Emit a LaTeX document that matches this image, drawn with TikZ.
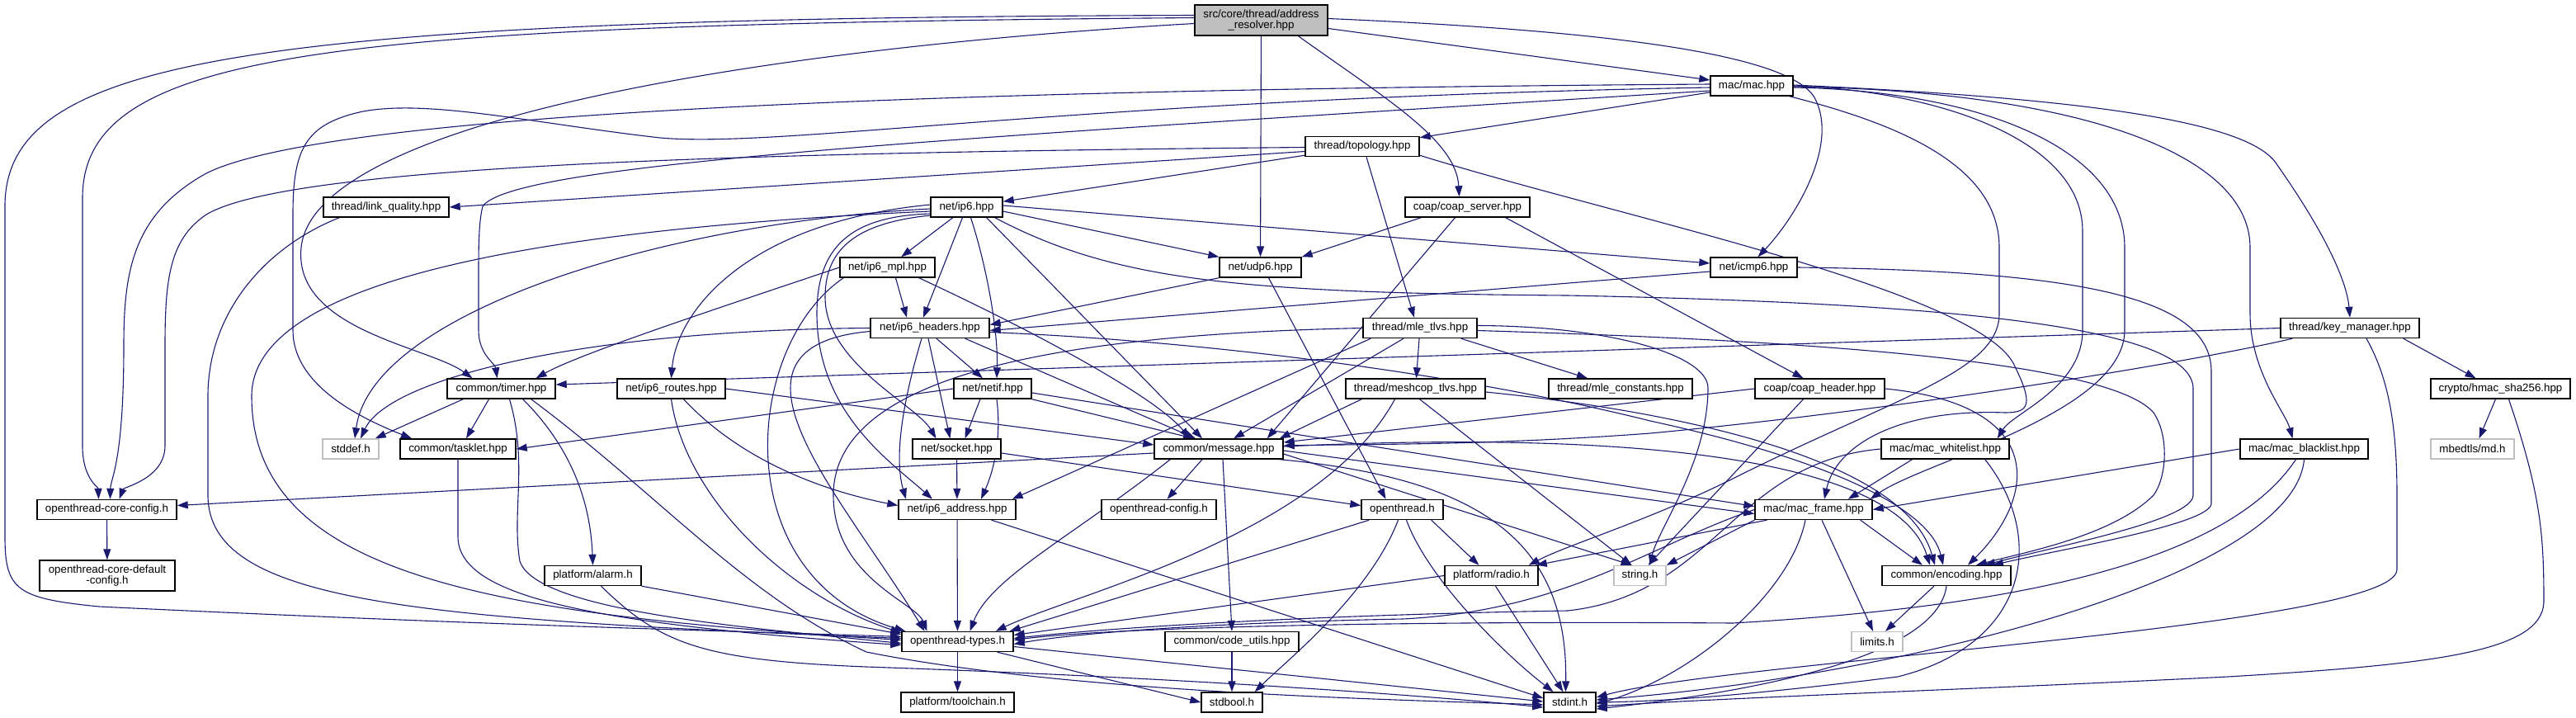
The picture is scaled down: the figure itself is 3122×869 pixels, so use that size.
\documentclass[tikz,border=0pt]{standalone}
\usepackage{fontspec}
\setmainfont{Liberation Sans}
\usetikzlibrary{arrows.meta,calc}
\definecolor{edgec}{HTML}{191970}
\definecolor{rootgray}{HTML}{BFBFBF}
\definecolor{lightb}{HTML}{BFBFBF}
\pgfdeclarelayer{edgelayer}
\pgfsetlayers{edgelayer,main}
\begin{document}
\begin{tikzpicture}[x=0.5pt,y=-0.5pt,
 box/.style={draw=black,line width=0.7pt,fill=white,inner sep=0pt,minimum height=12pt,font=\fontsize{6.67pt}{6.9pt}\selectfont,align=center},
 gbox/.style={box,draw=lightb},
 e/.style={draw=edgec,line width=0.55pt,-{Triangle[length=6.5pt,width=4.5pt]}}]
\useasboundingbox (0,0) rectangle (3122,869);
% nodes
\node[box,fill=rootgray,minimum width=80.5pt,minimum height=18.5pt] (root) at (1528.5,24.5) {src/core/thread/address\\\_resolver.hpp};
\node[box,minimum width=50pt] (mac) at (2123,104) {mac/mac.hpp};
\node[box,minimum width=69pt] (topology) at (1651,177.5) {thread/topology.hpp};
\node[box,minimum width=76pt] (linkq) at (468,251) {thread/link\_quality.hpp};
\node[box,minimum width=43.5pt] (ip6) at (1171.5,251) {net/ip6.hpp};
\node[box,minimum width=75.5pt] (coapserver) at (1778.5,251) {coap/coap\_server.hpp};
\node[box,minimum width=57.5pt] (ip6mpl) at (1075.5,324) {net/ip6\_mpl.hpp};
\node[box,minimum width=49.5pt] (udp6) at (1527.5,324) {net/udp6.hpp};
\node[box,minimum width=52.5pt] (icmp6) at (2125.5,324) {net/icmp6.hpp};
\node[box,minimum width=72pt] (ip6headers) at (1127,397.5) {net/ip6\_headers.hpp};
\node[box,minimum width=69pt] (mletlvs) at (1721,397.5) {thread/mle\_tlvs.hpp};
\node[box,minimum width=84pt] (keymgr) at (2848,397.5) {thread/key\_manager.hpp};
\node[box,minimum width=65.5pt] (timer) at (607.5,471) {common/timer.hpp};
\node[box,minimum width=65.5pt] (ip6routes) at (813.5,471) {net/ip6\_routes.hpp};
\node[box,minimum width=47pt] (netif) at (1203,471) {net/netif.hpp};
\node[box,minimum width=84.5pt] (meshcop) at (1715.5,471) {thread/meshcop\_tlvs.hpp};
\node[box,minimum width=87pt] (mleconst) at (1964,471) {thread/mle\_constants.hpp};
\node[box,minimum width=78.5pt] (coapheader) at (2205.5,471) {coap/coap\_header.hpp};
\node[box,minimum width=84.5pt] (hmac) at (3030.5,471) {crypto/hmac\_sha256.hpp};
\node[gbox,minimum width=34pt] (stddef) at (425,544) {stddef.h};
\node[box,minimum width=70pt] (tasklet) at (555,544) {common/tasklet.hpp};
\node[box,minimum width=53.5pt] (socket) at (1159.5,544) {net/socket.hpp};
\node[box,minimum width=78pt] (message) at (1477,544) {common/message.hpp};
\node[box,minimum width=77.5pt] (whitelist) at (2357.5,544) {mac/mac\_whitelist.hpp};
\node[box,minimum width=77.5pt] (blacklist) at (2792.5,544) {mac/mac\_blacklist.hpp};
\node[gbox,minimum width=50.5pt] (md) at (2996.5,544) {mbedtls/md.h};
\node[box,minimum width=84.5pt] (coreconfig) at (129.5,617.5) {openthread-core-config.h};
\node[box,minimum width=71pt] (ip6addr) at (1160,617.5) {net/ip6\_address.hpp};
\node[box,minimum width=69.5pt] (otconfig) at (1404.5,617.5) {openthread-config.h};
\node[box,minimum width=49.5pt] (openthread) at (1699.5,617.5) {openthread.h};
\node[box,minimum width=71pt] (macframe) at (2198,617.5) {mac/mac\_frame.hpp};
\node[box,minimum width=82pt,minimum height=18.5pt] (defconfig) at (130,697.5) {openthread-core-default\\-config.h};
\node[box,minimum width=58.5pt] (alarm) at (718.5,697.5) {platform/alarm.h};
\node[box,minimum width=56.5pt] (radio) at (1807.5,697.5) {platform/radio.h};
\node[gbox,minimum width=31.5pt] (string) at (1987.5,697.5) {string.h};
\node[box,minimum width=78pt] (encoding) at (2359,697.5) {common/encoding.hpp};
\node[box,minimum width=67.5pt] (types) at (1160.5,777.5) {openthread-types.h};
\node[box,minimum width=81pt] (codeutils) at (1493,777.5) {common/code\_utils.hpp};
\node[gbox,minimum width=31pt] (limits) at (2275,777.5) {limits.h};
\node[box,minimum width=68.5pt] (toolchain) at (1160.5,851) {platform/toolchain.h};
\node[box,minimum width=37pt] (stdbool) at (1493,851) {stdbool.h};
\node[box,minimum width=31.5pt] (stdint) at (1902.5,851) {stdint.h};
\begin{pgfonlayer}{edgelayer}
% ---- root
\draw[e] ($(root.west)+(0,-6)$) .. controls (300,22) and (6,70) .. (6,250) -- (6,650) .. controls (6,715) and (20,725) .. (120,735) .. controls (600,758) and (900,765) .. ($(types.west)+(0,-6)$);
\draw[e] ($(root.west)+(0,-3)$) .. controls (400,30) and (100,60) .. (100,240) -- (100,540) .. controls (100,580) and (119,590) .. ($(coreconfig.north)+(-10,0)$);
\draw[e] ($(root.west)+(0,4)$) .. controls (900,60) and (380,150) .. (365,300) .. controls (355,400) and (520,420) .. ($(timer.north)+(-35,0)$);
\draw[e] (root) -- (udp6);
\draw[e] ($(root.south)+(45,0)$) .. controls (1680,120) and (1765,170) .. ($(coapserver.north)+(-10,0)$);
\draw[e] ($(root.east)+(0,10)$) -- ($(mac.west)+(0,-7)$);
\draw[e] ($(root.east)+(0,-2)$) .. controls (1900,35) and (2170,60) .. (2200,120) .. controls (2230,180) and (2170,270) .. ($(icmp6.north)+(5,0)$);
% ---- mac
\draw[e] (mac) -- (topology);
\draw[e] ($(mac.west)+(0,-2)$) .. controls (900,110) and (370,150) .. (250,210) .. controls (160,260) and (150,330) .. (150,420) .. controls (150,560) and (134,580) .. ($(coreconfig.north)+(4,0)$);
\draw[e] ($(mac.west)+(0,2)$) .. controls (1300,120) and (950,180) .. (800,167) .. controls (650,150) and (520,120) .. (440,135) .. controls (370,150) and (355,180) .. (355,260) -- (355,400) .. controls (355,460) and (420,500) .. ($(tasklet.north)+(-56,0)$);
\draw[e] ($(mac.west)+(0,6)$) .. controls (1100,170) and (620,200) .. (585,250) .. controls (580,270) and (580,300) .. (580,340) -- (580,400) .. controls (580,430) and (600,440) .. ($(timer.north)+(-5,0)$);
\draw[e] ($(mac.east)+(0,2)$) .. controls (2400,110) and (2575,180) .. (2575,300) -- (2575,400) .. controls (2575,500) and (2330,560) .. ($(macframe.north east)+(-3,0)$);
\draw[e] ($(mac.east)+(0,0)$) .. controls (2350,110) and (2524,170) .. (2524,280) -- (2524,400) .. controls (2524,470) and (2440,500) .. ($(whitelist.north east)+(-15,0)$);
\draw[e] ($(mac.east)+(0,1)$) .. controls (2500,110) and (2727,180) .. (2727,300) -- (2727,380) .. controls (2727,450) and (2770,500) .. ($(blacklist.north)+(-14,0)$);
\draw[e] ($(mac.east)+(0,-1)$) .. controls (2550,120) and (2730,150) .. (2760,200) .. controls (2830,300) and (2845,350) .. (keymgr.north);
\draw[e] ($(mac.south east)+(-5,0)$) .. controls (2300,150) and (2423,200) .. (2423,300) -- (2423,380) .. controls (2423,450) and (2300,480) .. (2100,580) .. controls (2000,630) and (1900,660) .. ($(radio.north east)+(-12,0)$);
% ---- topology
\draw[e] ($(topology.west)+(0,1)$) .. controls (900,185) and (350,200) .. (250,260) .. controls (205,290) and (200,340) .. (200,420) -- (200,540) .. controls (200,580) and (150,590) .. ($(coreconfig.north)+(15,0)$);
\draw[e] ($(topology.west)+(0,6)$) -- (linkq.east);
\draw[e] (topology) -- (ip6);
\draw[e] ($(topology.south)+(5,0)$) -- ($(mletlvs.north)+(-7,0)$);
\draw[e] ($(topology.south east)+(0,-2)$) .. controls (1950,260) and (2390,350) .. (2440,440) .. controls (2465,490) and (2460,500) .. (2430,500) .. controls (2300,495) and (2225,540) .. ($(macframe.north)+(13,0)$);
% ---- link quality
\draw[e] ($(linkq.south west)+(20,0)$) .. controls (320,300) and (252,380) .. (252,480) -- (252,600) .. controls (252,730) and (500,750) .. ($(types.west)+(0,-4)$);
% ---- ip6
\draw[e] (ip6) -- (ip6mpl);
\draw[e] ($(ip6.south)+(-5,0)$) -- ($(ip6headers.north)+(-8,0)$);
\draw[e] ($(ip6.south)+(5,0)$) .. controls (1195,320) and (1210,400) .. ($(netif.north)+(5,0)$);
\draw[e] ($(ip6.south east)+(-20,0)$) -- ($(message.north)+(-20,0)$);
\draw[e] ($(ip6.east)+(0,5)$) -- (udp6.north west);
\draw[e] ($(ip6.east)+(0,-2)$) -- ($(icmp6.west)+(0,-5)$);
\draw[e] ($(ip6.south east)+(-10,0)$) .. controls (1350,340) and (1500,355) .. (1900,358) .. controls (2400,368) and (2655,400) .. (2658,470) -- (2658,600) .. controls (2658,630) and (2500,660) .. ($(encoding.north)+(46,0)$);
\draw[e] ($(ip6.west)+(0,2)$) .. controls (800,270) and (450,380) .. ($(stddef.north)+(5,0)$);
\draw[e] ($(ip6.west)+(0,5)$) .. controls (600,280) and (305,350) .. (305,480) .. controls (305,700) and (600,745) .. ($(types.west)+(0,-2)$);
\draw[e] ($(ip6.west)+(0,8)$) .. controls (1030,262) and (990,300) .. (990,380) .. controls (990,500) and (1080,560) .. ($(ip6addr.north)+(-30,0)$);
\draw[e] ($(ip6.west)+(0,10)$) .. controls (1040,270) and (1000,300) .. (1000,360) .. controls (1000,440) and (1110,490) .. ($(socket.north)+(-25,0)$);
\draw[e] ($(ip6.west)+(0,-3)$) .. controls (900,270) and (820,380) .. (ip6routes.north);
% ---- ip6 mpl
\draw[e] ($(ip6mpl.south)+(10,0)$) -- ($(ip6headers.north)+(-28,0)$);
\draw[e] ($(ip6mpl.south east)+(-20,0)$) .. controls (1250,400) and (1400,480) .. ($(message.north)+(-35,0)$);
\draw[e] (ip6mpl.west) .. controls (850,380) and (700,430) .. ($(timer.north)+(42,0)$);
\draw[e] ($(ip6mpl.south west)+(5,0)$) .. controls (900,420) and (880,700) .. ($(types.north west)+(5,0)$);
% ---- udp6, icmp6
\draw[e] (udp6.south west) -- ($(ip6headers.east)+(0,-4)$);
\draw[e] ($(udp6.south)+(10,0)$) -- ($(openthread.north)+(-20,0)$);
\draw[e] ($(icmp6.west)+(0,5)$) -- ($(ip6headers.east)+(0,3)$);
\draw[e] (icmp6.east) .. controls (2520,328) and (2680,360) .. (2680,450) -- (2680,610) .. controls (2680,635) and (2500,665) .. ($(encoding.north)+(56,0)$);
% ---- ip6 headers
\draw[e] (ip6headers.west) .. controls (700,400) and (470,460) .. ($(stddef.north)+(12,0)$);
\draw[e] ($(ip6headers.west)+(0,4)$) .. controls (850,420) and (1020,600) .. ($(types.north)+(-40,0)$);
\draw[e] ($(ip6headers.south)+(-10,0)$) .. controls (1090,500) and (1085,560) .. ($(ip6addr.north)+(-62,0)$);
\draw[e] ($(ip6headers.south)+(8,0)$) -- ($(netif.north)+(-12,0)$);
\draw[e] ($(ip6headers.south)+(-2,0)$) -- ($(socket.north)+(-8,0)$);
\draw[e] ($(ip6headers.south east)+(-30,0)$) -- ($(message.north)+(-28,0)$);
\draw[e] ($(ip6headers.east)+(0,5)$) .. controls (1500,415) and (1800,460) .. (2000,510) .. controls (2230,560) and (2340,620) .. ($(encoding.north)+(-4,0)$);
% ---- mle tlvs
\draw[e] (mletlvs.west) .. controls (1300,405) and (1010,450) .. (1010,600) .. controls (1010,700) and (1110,730) .. ($(types.north)+(-37,0)$);
\draw[e] ($(mletlvs.south west)+(10,0)$) -- ($(ip6addr.north east)+(-5,0)$);
\draw[e] ($(mletlvs.south)+(-20,0)$) -- ($(message.north)+(18,0)$);
\draw[e] (mletlvs) -- (meshcop);
\draw[e] ($(mletlvs.south east)+(-20,0)$) -- ($(mleconst.north)+(-40,0)$);
\draw[e] ($(mletlvs.east)+(0,-3)$) .. controls (1950,395) and (2070,430) .. (2070,470) .. controls (2070,560) and (2010,640) .. ($(string.north)+(12,0)$);
\draw[e] ($(mletlvs.east)+(0,3)$) .. controls (2100,410) and (2550,430) .. (2610,500) .. controls (2630,530) and (2625,580) .. (2610,600) .. controls (2560,650) and (2450,670) .. ($(encoding.north)+(36,0)$);
% ---- meshcop
\draw[e] ($(meshcop.south west)+(20,0)$) -- ($(message.north east)+(-5,0)$);
\draw[e] ($(meshcop.south)+(-25,0)$) .. controls (1600,650) and (1300,720) .. ($(types.north east)+(-22,0)$);
\draw[e] ($(meshcop.south)+(5,0)$) -- ($(string.north)+(-10,0)$);
\draw[e] ($(meshcop.east)+(0,4)$) .. controls (2050,500) and (2310,560) .. ($(encoding.north)+(-14,0)$);
% ---- key manager
\draw[e] (keymgr.west) -- ($(timer.east)+(0,-5)$);
\draw[e] ($(keymgr.south west)+(15,0)$) .. controls (2650,440) and (2300,497) .. (2000,525) .. controls (1800,540) and (1650,538) .. ($(message.east)+(0,-4)$);
\draw[e] ($(keymgr.south)+(20,0)$) .. controls (2890,450) and (2905,500) .. (2905,600) -- (2905,690) .. controls (2905,760) and (2100,800) .. ($(stdint.east)+(0,-6)$);
\draw[e] ($(keymgr.south east)+(-20,0)$) -- ($(hmac.north)+(-30,0)$);
% ---- hmac
\draw[e] ($(hmac.south)+(-6,0)$) -- ($(md.north)+(8,0)$);
\draw[e] ($(hmac.south)+(10,0)$) .. controls (3080,600) and (3083,650) .. (3083,730) .. controls (3080,790) and (2950,805) .. (2700,820) .. controls (2400,835) and (2100,845) .. ($(stdint.east)+(0,5)$);
% ---- timer
\draw[e] ($(timer.south west)+(20,0)$) -- ($(stddef.north east)+(-5,0)$);
\draw[e] ($(timer.south)+(-15,0)$) -- ($(tasklet.north)+(10,0)$);
\draw[e] ($(timer.south east)+(-40,0)$) .. controls (700,550) and (716,620) .. (alarm.north);
\draw[e] ($(timer.south)+(10,0)$) .. controls (640,560) and (620,620) .. (630,680) .. controls (650,740) and (900,760) .. ($(types.west)+(0,2)$);
\draw[e] ($(timer.south east)+(-30,0)$) .. controls (800,600) and (900,720) .. (1050,790) .. controls (1300,840) and (1700,848) .. ($(stdint.west)+(0,3)$);
% ---- tasklet
\draw[e] (tasklet.south) -- (555,650) .. controls (555,720) and (700,755) .. ($(types.west)+(0,4)$);
% ---- ip6 routes
\draw[e] ($(ip6routes.south)+(15,0)$) .. controls (900,560) and (1000,595) .. ($(ip6addr.west)+(0,-5)$);
\draw[e] (ip6routes.east) -- ($(message.west)+(0,-5)$);
\draw[e] ($(ip6routes.south)+(0,0)$) .. controls (830,600) and (950,720) .. ($(types.north west)+(0,2)$);
% ---- netif
\draw[e] (netif.west) -- (tasklet.east);
\draw[e] ($(netif.south)+(-15,0)$) -- ($(socket.north)+(10,0)$);
\draw[e] ($(netif.south)+(5,0)$) .. controls (1215,540) and (1200,580) .. ($(ip6addr.north)+(29,0)$);
\draw[e] (netif.south east) -- ($(message.north)+(-30,0)$);
\draw[e] ($(netif.east)+(0,5)$) -- ($(macframe.west)+(0,-4)$);
% ---- socket
\draw[e] (socket) -- (ip6addr);
\draw[e] ($(socket.east)+(0,5)$) -- ($(openthread.west)+(0,-5)$);
% ---- message
\draw[e] ($(message.west)+(0,5)$) -- ($(coreconfig.east)+(0,-5)$);
\draw[e] ($(message.south west)+(20,0)$) .. controls (1300,650) and (1200,700) .. ($(types.north)+(15,0)$);
\draw[e] ($(message.south)+(-20,0)$) -- ($(otconfig.north)+(10,0)$);
\draw[e] ($(message.south)+(5,0)$) -- (codeutils.north);
\draw[e] ($(message.east)+(0,2)$) -- ($(macframe.west)+(0,5)$);
\draw[e] ($(message.east)+(0,6)$) -- ($(string.north)+(-10,0)$);
\draw[e] ($(message.south east)+(-5,0)$) .. controls (1800,580) and (1900,660) .. ($(stdint.north)+(-5,0)$);
\draw[e] ($(message.east)+(0,-3)$) .. controls (2000,520) and (2300,560) .. ($(encoding.north)+(-20,0)$);
% ---- coap server
\draw[e] ($(coapserver.south west)+(20,0)$) -- (udp6.north east);
\draw[e] ($(coapserver.south)+(-15,0)$) -- ($(message.north east)+(-20,0)$);
\draw[e] ($(coapserver.south east)+(-30,0)$) -- ($(coapheader.north)+(-20,0)$);
% ---- coap header
\draw[e] (coapheader.west) -- ($(message.east)+(0,-8)$);
\draw[e] ($(coapheader.south)+(-20,0)$) -- ($(string.north)+(10,0)$);
\draw[e] (coapheader.east) .. controls (2480,490) and (2470,600) .. ($(encoding.north)+(26,0)$);
% ---- whitelist
\draw[e] ($(whitelist.south)+(-40,0)$) -- ($(macframe.north east)+(-30,0)$);
\draw[e] (whitelist.west) .. controls (2100,560) and (2080,720) .. (1900,740) .. controls (1600,745) and (1350,760) .. ($(types.east)+(0,-4)$);
\draw[e] ($(whitelist.south east)+(-30,0)$) .. controls (2480,650) and (2460,780) .. (2300,820) .. controls (2100,845) and (2000,850) .. (stdint.east);
% ---- blacklist
\draw[e] (blacklist.west) -- (macframe.east);
\draw[e] ($(blacklist.south)+(-10,0)$) .. controls (2700,680) and (2450,735) .. (2100,755) .. controls (1700,752) and (1350,760) .. ($(types.east)+(0,-2)$);
\draw[e] ($(blacklist.south)+(0,0)$) .. controls (2780,700) and (2300,820) .. ($(stdint.east)+(0,-3)$);
% ---- mac frame
\draw[e] (macframe.west) .. controls (2000,660) and (1900,740) .. (1700,750) .. controls (1450,755) and (1300,768) .. ($(types.east)+(0,3)$);
\draw[e] ($(macframe.south west)+(15,0)$) -- ($(radio.north east)+(-3,0)$);
\draw[e] (macframe.south west) -- (string.north east);
\draw[e] ($(macframe.south)+(-10,0)$) .. controls (2170,720) and (2050,820) .. ($(stdint.east)+(0,2)$);
\draw[e] ($(macframe.south east)+(-15,0)$) -- ($(encoding.north)+(-29,0)$);
\draw[e] ($(macframe.south)+(10,0)$) -- ($(limits.north)+(-5,0)$);
% ---- encoding
\draw[e] ($(encoding.south)+(-15,0)$) -- ($(limits.north)+(10,0)$);
\draw[e] (encoding.south) .. controls (2350,780) and (2200,830) .. ($(stdint.east)+(0,8)$);
% ---- radio, openthread
\draw[e] (radio.west) -- ($(types.east)+(0,-8)$);
\draw[e] ($(radio.south)+(5,0)$) -- ($(stdint.north)+(-8,0)$);
\draw[e] ($(openthread.south west)+(10,0)$) -- ($(types.north east)+(-5,0)$);
\draw[e] ($(openthread.south east)+(-15,0)$) -- ($(radio.north)+(-15,0)$);
\draw[e] ($(openthread.south)+(-5,0)$) .. controls (1660,720) and (1560,800) .. ($(stdbool.north east)+(-10,0)$);
\draw[e] ($(openthread.south)+(5,0)$) .. controls (1730,700) and (1820,790) .. ($(stdint.north)+(-20,0)$);
% ---- ip6 address
\draw[e] (ip6addr) -- (types);
\draw[e] ($(ip6addr.south east)+(-30,0)$) -- ($(stdint.west)+(0,-5)$);
% ---- alarm
\draw[e] (alarm.south east) -- ($(types.west)+(0,-9)$);
\draw[e] ($(alarm.south)+(10,0)$) .. controls (800,780) and (850,800) .. (1050,808) .. controls (1400,820) and (1700,840) .. ($(stdint.west)+(0,6)$);
% ---- types, code utils, config
\draw[e] (types) -- (toolchain);
\draw[e] ($(types.south east)+(-20,0)$) -- (stdbool.west);
\draw[e] ($(types.east)+(0,6)$) -- ($(stdint.west)+(0,-1)$);
\draw[e] (codeutils) -- (stdbool);
\draw[e] (coreconfig) -- (defconfig);
\end{pgfonlayer}
\end{tikzpicture}
\end{document}
